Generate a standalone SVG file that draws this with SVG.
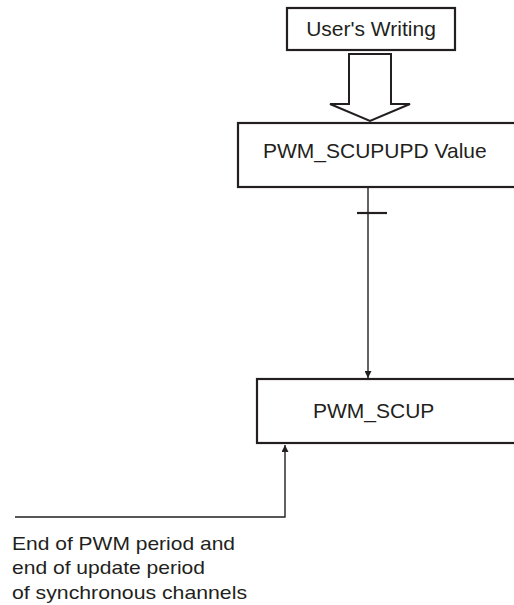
<svg xmlns="http://www.w3.org/2000/svg" width="514" height="605" viewBox="0 0 514 605">
<style>
.box{fill:#fff;stroke:#231f20;stroke-width:2.2}
.lbl{font-family:"Liberation Sans",Arial,sans-serif;font-size:21px;fill:#231f20}
.note{font-family:"Liberation Sans",Arial,sans-serif;font-size:19px;fill:#231f20}
.conn{fill:none;stroke:#231f20;stroke-width:1.4}
</style>
<defs>
<marker id="ah" viewBox="0 0 10 10" refX="10" refY="5" markerWidth="9" markerHeight="7" markerUnits="userSpaceOnUse" orient="auto">
<path d="M0,0 L10,5 L0,10 z" fill="#231f20"/>
</marker>
</defs>
<rect width="514" height="605" fill="#fff"/>
<g id="users-writing">
<rect class="box" x="287" y="8" width="168" height="42"/>
<text class="lbl" x="371" y="36" text-anchor="middle">User's Writing</text>
</g>
<g id="scupupd">
<rect class="box" x="238" y="123" width="290" height="64"/>
<text class="lbl" x="263" y="158">PWM_SCUPUPD Value</text>
</g>
<g id="scup">
<rect class="box" x="257" y="379" width="270" height="64"/>
<text class="lbl" x="313" y="418">PWM_SCUP</text>
</g>
<g id="connectors">
<path d="M349,54 L391,54 L391,104 L410,104 L370,121 L330,104 L349,104 Z" fill="#fff" stroke="#231f20" stroke-width="2"/>
<line class="conn" x1="368" y1="188" x2="368" y2="378" marker-end="url(#ah)"/>
<line x1="357" y1="213" x2="387" y2="213" stroke="#231f20" stroke-width="2.2"/>
<polyline class="conn" points="15,517 285,517 285,445" marker-end="url(#ah)"/>
</g>
<g id="note">
<text class="note" x="12" y="550" textLength="223" lengthAdjust="spacingAndGlyphs">End of PWM period and</text>
<text class="note" x="12" y="574" textLength="193" lengthAdjust="spacingAndGlyphs">end of update period</text>
<text class="note" x="12" y="599" textLength="235" lengthAdjust="spacingAndGlyphs">of synchronous channels</text>
</g>
</svg>
